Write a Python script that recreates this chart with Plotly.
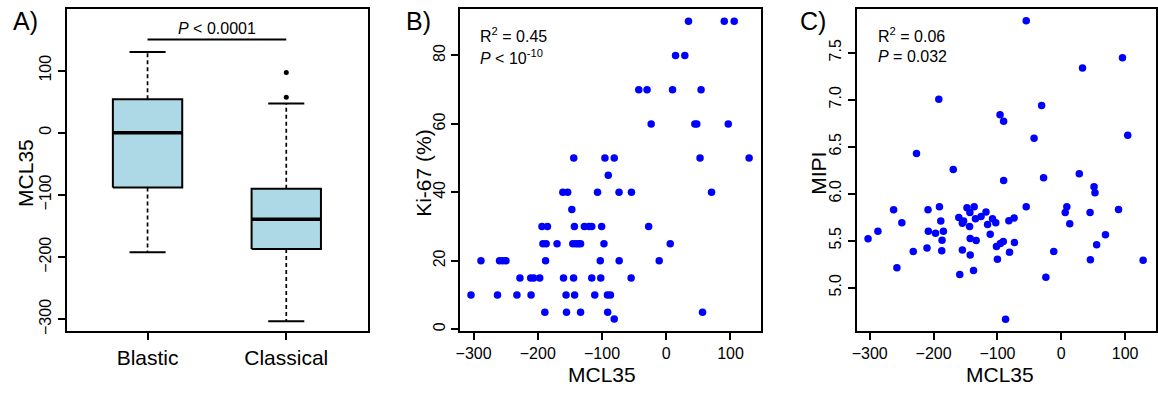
import plotly.graph_objects as go

# ---------------- Data ----------------
# Panel A: box plot summary of MCL35 by subtype
groups = ["Blastic", "Classical"]
group_pos = [1, 2]
q1 = [-88, -187]
median = [0, -139]
q3 = [54, -90]
whisker_lo = [-192, -303]
whisker_hi = [130, 47]
outliers_group = [2, 2]
outliers_val = [97, 57]

# Panel B: MCL35 vs Ki-67 (%)
ki_mcl35 = [34.6, 90.3, 105.8,
            14.5, 28.9,
            -42.8, -29.9, 9.8, 54.2,
            -23.5, 44.5, 47.5, 96.5,
            -144, -95.5, -81, 52.6, 129,
            -90.3,
            -161, -153.5, -107, -73.5, -54.2, 70.5,
            -147,
            -193.5, -185, -127.5, -120.3, -116, -143, -100.6, -27.4,
            -192, -187, -170, -145.5, -140.5, -136.8, -133.4, -97, 6.2,
            -288.5, -259.6, -254.5, -249.5, -187.9, -102.7, -73.3, -11,
            -227.8, -211, -206.5, -197, -160, -144.3, -116, -102, -54.7,
            -304, -262.7, -232.5, -210.5, -156, -142.7, -111.3, -91.6, -86.9,
            -189, -155.3, -133.4, -91.2, 56.5,
            -81]
ki67 = [90, 90, 90,
        80, 80,
        70, 70, 70, 70,
        60, 60, 60, 60,
        50, 50, 50, 50, 50,
        45,
        40, 40, 40, 40, 40, 40,
        35,
        30, 30, 30, 30, 30, 30, 30, 30,
        25, 25, 25, 25, 25, 25, 25, 25, 25,
        20, 20, 20, 20, 20, 20, 20, 20,
        15, 15, 15, 15, 15, 15, 15, 15, 15,
        10, 10, 10, 10, 10, 10, 10, 10, 10,
        5, 5, 5, 5, 5,
        3]

# Panel C: MCL35 vs MIPI
mipi_mcl35 = [-54.9, 95.9, 33.3, -191.8, -30.8, -95.9, -90.3, -42.6, 104.1, -226.7,
              -169.2, 28.2, -27.7, -90.3, 51.3, 52.8, -54.9, 8.7, 6.2, 45.1,
              89.7, 13.3, 69.2, 55.4, 45.6, 128.2, -11.8, -24.1, -87.2,
              -302.6, -287.2, -262.6, -249.7, -257.4, -231.8, -208.7, -208.2, -210.3, -190.8,
              -188.7, -196.9, -184.6, -186.7, -187.2, -160.5, -154.9, -153.0, -147.7, -143.1,
              -136.4, -143.6, -134.4, -142.6, -133.3, -154.9, -142.6, -159.0, -137.4, -125.6,
              -117.9, -115.4, -111.3, -107.7, -102.6, -101.5, -100.0, -95.4, -90.8, -81.0,
              -82.1, -73.8, -73.3]
mipi = [7.84, 7.447, 7.338, 7.005, 6.938, 6.84, 6.77, 6.591, 6.622, 6.429,
        6.257, 6.211, 6.169, 6.141, 6.074, 6.011, 5.86, 5.86, 5.80, 5.80,
        5.832, 5.681, 5.562, 5.456, 5.298, 5.291, 5.386, 5.112, 4.663,
        5.52, 5.60, 5.829, 5.692, 5.211, 5.386, 5.829, 5.60, 5.421, 5.86,
        5.709, 5.579, 5.60, 5.506, 5.393, 5.748, 5.685, 5.71, 5.85, 5.80,
        5.86, 5.65, 5.734, 5.523, 5.502, 5.40, 5.348, 5.14, 5.183, 5.758,
        5.804, 5.671, 5.569, 5.734, 5.692, 5.439, 5.302, 5.471, 5.492, 5.376,
        5.713, 5.741, 5.481]

a_yticks = [-300, -200, -100, 0, 100]
b_xticks = [-300, -200, -100, 0, 100]
b_yticks = [0, 20, 40, 60, 80]
c_yticks = [5.0, 5.5, 6.0, 6.5, 7.0, 7.5]
c_yticklabels = ["5.0", "5.5", "6.0", "6.5", "7.0", "7.5"]
p_bracket_y = 150
stats_b = ["R<sup>2</sup> = 0.45", "<i>P</i> &lt; 10<sup>-10</sup>"]
stats_c = ["R<sup>2</sup> = 0.06", "<i>P</i> = 0.032"]

# ---------------- Figure ----------------
W, H = 1158, 395
FONT = "Liberation Sans, Arial, Helvetica, sans-serif"
BOX_HALF = 0.25
CAP_HALF = 0.13
LW = 2.0
fig = go.Figure()

# Panel A boxes
for g, pos, a, m, b, lo, hi in zip(groups, group_pos, q1, median, q3, whisker_lo, whisker_hi):
    fig.add_trace(go.Scatter(
        x=[pos - BOX_HALF, pos + BOX_HALF, pos + BOX_HALF, pos - BOX_HALF, pos - BOX_HALF],
        y=[a, a, b, b, a], mode="lines", fill="toself", fillcolor="#ADD8E6",
        line=dict(color="black", width=LW), xaxis="x", yaxis="y", showlegend=False,
        hoverinfo="skip"))
    fig.add_trace(go.Scatter(x=[pos - BOX_HALF, pos + BOX_HALF], y=[m, m], mode="lines",
                             line=dict(color="black", width=3.5), xaxis="x", yaxis="y",
                             showlegend=False))
    for y0, y1 in ((b, hi), (a, lo)):
        fig.add_trace(go.Scatter(x=[pos, pos], y=[y0, y1], mode="lines",
                                 line=dict(color="black", width=1.7, dash="4px,3px"),
                                 xaxis="x", yaxis="y", showlegend=False))
        fig.add_trace(go.Scatter(x=[pos - CAP_HALF, pos + CAP_HALF], y=[y1, y1], mode="lines",
                                 line=dict(color="black", width=LW),
                                 xaxis="x", yaxis="y", showlegend=False))

fig.add_trace(go.Scatter(x=outliers_group, y=outliers_val, mode="markers",
                         marker=dict(color="black", size=5), xaxis="x", yaxis="y",
                         showlegend=False))
# significance bracket
fig.add_trace(go.Scatter(x=[group_pos[0], group_pos[1]], y=[p_bracket_y, p_bracket_y],
                         mode="lines", line=dict(color="black", width=LW),
                         xaxis="x", yaxis="y", showlegend=False))

# Panel B
fig.add_trace(go.Scatter(x=ki_mcl35, y=ki67, mode="markers",
                         marker=dict(color="#0000FF", size=7.5), xaxis="x2", yaxis="y2",
                         showlegend=False))
# Panel C
fig.add_trace(go.Scatter(x=mipi_mcl35, y=mipi, mode="markers",
                         marker=dict(color="#0000FF", size=7.5), xaxis="x3", yaxis="y3",
                         showlegend=False))

def px_x(p):
    return p / W

def px_y(p):
    return 1 - p / H

TOP, BOT = 9.3, 334.3
ydom = [px_y(BOT), px_y(TOP)]

axis_common = dict(showline=True, mirror=True, linecolor="black", linewidth=LW,
                   ticks="outside", ticklen=7, tickwidth=LW, tickcolor="black",
                   showgrid=False, zeroline=False,
                   tickfont=dict(size=16, color="black", family=FONT))

xrange_mcl = [-320.6, 147.6]

fig.update_layout(
    width=W, height=H, margin=dict(l=0, r=0, t=0, b=0),
    paper_bgcolor="white", plot_bgcolor="white",
    font=dict(family=FONT, color="black"),
    xaxis=dict(axis_common, domain=[px_x(62), px_x(365)], range=[0.417, 2.59],
               tickvals=group_pos, ticktext=groups,
               tickfont=dict(size=21, color="black", family=FONT), anchor="y"),
    yaxis=dict(axis_common, domain=ydom, range=[-318.6, 198.7], tickvals=a_yticks,
               tickangle=-90, anchor="x"),
    xaxis2=dict(axis_common, domain=[px_x(457.7), px_x(760)], range=xrange_mcl,
                tickvals=b_xticks, anchor="y2"),
    yaxis2=dict(axis_common, domain=ydom, range=[-0.48, 93.5], tickvals=b_yticks,
                tickangle=-90, anchor="x2"),
    xaxis3=dict(axis_common, domain=[px_x(856), px_x(1156.5)], range=xrange_mcl,
                tickvals=b_xticks, anchor="y3"),
    yaxis3=dict(axis_common, domain=ydom, range=[4.54, 7.963], tickvals=c_yticks,
                ticktext=c_yticklabels, tickangle=-90, anchor="x3"),
)

ann = []
# panel letters
for txt, x in (("A)", 6), ("B)", 401), ("C)", 797)):
    ann.append(dict(text=txt, x=px_x(x), y=px_y(21), xref="paper", yref="paper",
                    xanchor="left", yanchor="middle", showarrow=False,
                    font=dict(size=25, family=FONT, color="black")))
# y titles
for txt, x in (("MCL35", 20), ("Ki-67 (%)", 420), ("MIPI", 817)):
    ann.append(dict(text=txt, x=px_x(x), y=px_y((TOP + BOT) / 2 + 3), xref="paper",
                    yref="paper", xanchor="center", yanchor="middle", textangle=-90,
                    showarrow=False, font=dict(size=21, family=FONT, color="black")))
# x titles
for x in (600, 1000):
    ann.append(dict(text="MCL35", x=px_x(x), y=px_y(378), xref="paper", yref="paper",
                    xanchor="center", yanchor="middle", showarrow=False,
                    font=dict(size=21, family=FONT, color="black")))
# P value on bracket
ann.append(dict(text="<i>P</i> &lt; 0.0001", x=1.5, y=p_bracket_y, xref="x", yref="y",
                xanchor="center", yanchor="bottom", showarrow=False, borderpad=0,
                yshift=1, font=dict(size=16, family=FONT, color="black")))
# stats text
for lines, x in ((stats_b, 475), (stats_c, 876)):
    for txt, y in zip(lines, (35, 57.5)):
        ann.append(dict(text=txt, x=px_x(x), y=px_y(y), xref="paper", yref="paper",
                        xanchor="left", yanchor="middle", showarrow=False,
                        font=dict(size=16, family=FONT, color="black")))
fig.update_layout(annotations=ann)

fig.write_html("out.html", config={"displayModeBar": False},
               post_script="document.body.style.margin='0px';document.body.style.overflow='hidden';")
